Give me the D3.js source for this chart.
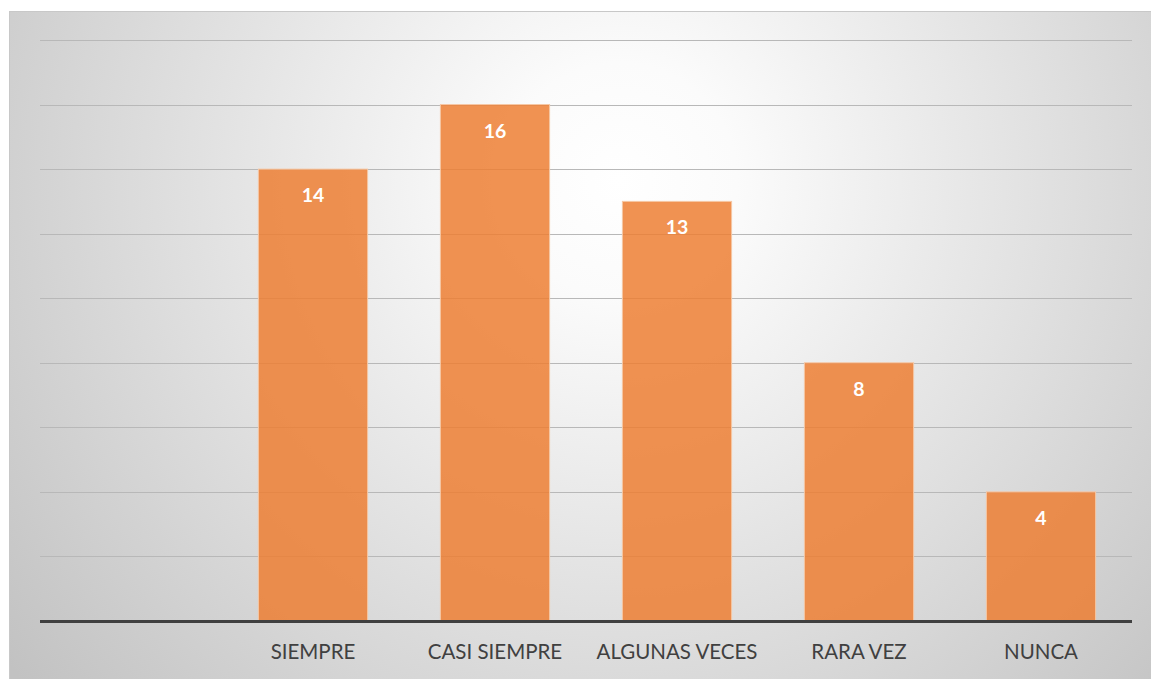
<!DOCTYPE html>
<html>
<head>
<meta charset="utf-8">
<script src="https://cdn.jsdelivr.net/npm/d3@7"></script>
<style>
  html, body { margin: 0; padding: 0; background: #fff; }
  svg { display: block; }
</style>
</head>
<body>
<div id="chart"></div>
<script>
const categories = ["", "SIEMPRE", "CASI SIEMPRE", "ALGUNAS VECES", "RARA VEZ", "NUNCA"];
const values = [null, 14, 16, 13, 8, 4];
const yTicks = [0, 2, 4, 6, 8, 10, 12, 14, 16, 18];

const width = 1151;
const height = 679;

const svg = d3.select("#chart").append("svg")
  .attr("width", width)
  .attr("height", height);

// fondo con degradado radial, como el estilo de Excel
const defs = svg.append("defs");
const grad = defs.append("radialGradient")
  .attr("id", "bg")
  .attr("gradientUnits", "userSpaceOnUse")
  .attr("cx", 620).attr("cy", 180).attr("r", 780);
grad.append("stop").attr("offset", "0%").attr("stop-color", "#ffffff");
grad.append("stop").attr("offset", "15%").attr("stop-color", "#fbfbfb");
grad.append("stop").attr("offset", "100%").attr("stop-color", "#c2c2c2");

svg.append("rect")
  .attr("x", 9.5).attr("y", 11.5)
  .attr("width", width - 9).attr("height", height - 11)
  .attr("fill", "url(#bg)")
  .attr("stroke", "#c8c8c8");

const x = d3.scaleBand()
  .domain(categories)
  .range([40, 1132])
  .paddingInner(0.4)
  .paddingOuter(0.2);

const y = d3.scaleLinear()
  .domain([0, 18])
  .range([621, 40]);

// líneas de cuadrícula
svg.append("g")
  .selectAll("line")
  .data(yTicks.filter(d => d > 0))
  .join("line")
  .attr("x1", 40).attr("x2", 1132)
  .attr("y1", d => Math.round(y(d)) + 0.5)
  .attr("y2", d => Math.round(y(d)) + 0.5)
  .attr("stroke", "#b8b8b8")
  .attr("stroke-width", 1.2);

// barras
const data = categories.map((c, i) => ({ c, v: values[i] })).filter(d => d.v != null);

svg.append("g")
  .selectAll("rect")
  .data(data)
  .join("rect")
  .attr("x", d => x(d.c))
  .attr("y", d => y(d.v))
  .attr("width", x.bandwidth())
  .attr("height", d => y(0) - y(d.v))
  .attr("fill", "#ED7D31")
  .attr("fill-opacity", 0.84)
  .attr("stroke", "#f6c7a4")
  .attr("stroke-width", 1);

// eje horizontal
svg.append("line")
  .attr("x1", 40).attr("x2", 1132)
  .attr("y1", y(0) + 0.5).attr("y2", y(0) + 0.5)
  .attr("stroke", "#404040")
  .attr("stroke-width", 3);

// etiquetas de datos
svg.append("g")
  .selectAll("text")
  .data(data)
  .join("text")
  .attr("x", d => x(d.c) + x.bandwidth() / 2)
  .attr("y", d => y(d.v) + 33)
  .attr("text-anchor", "middle")
  .attr("font-family", "Lato, 'Open Sans', sans-serif")
  .attr("font-weight", "bold")
  .attr("font-size", 19.5)
  .attr("fill", "#ffffff")
  .text(d => d.v);

// etiquetas de categoría
svg.append("g")
  .selectAll("text")
  .data(categories.filter(c => c !== ""))
  .join("text")
  .attr("x", d => x(d) + x.bandwidth() / 2)
  .attr("y", 659)
  .attr("text-anchor", "middle")
  .attr("font-family", "Lato, 'Open Sans', sans-serif")
  .attr("font-size", 20.5)
  .attr("fill", "#404040")
  .text(d => d);
</script>
</body>
</html>
